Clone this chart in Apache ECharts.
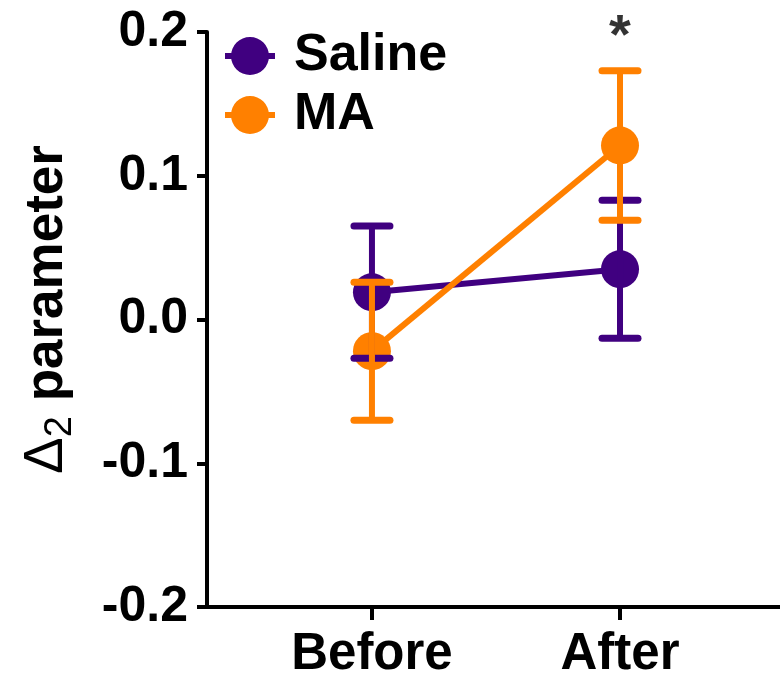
<!DOCTYPE html>
<html>
<head>
<meta charset="utf-8">
<script src="https://cdn.jsdelivr.net/npm/echarts@6/dist/echarts.min.js"></script>
<style>html,body{margin:0;padding:0;background:#fff}#c{width:780px;height:680px}</style>
</head>
<body>
<div id="c"></div>
<script>
var categories = ['Before', 'After'];
var yTicks = [-0.2, -0.1, 0.0, 0.1, 0.2];
var salineMean = [0.019, 0.035];
var salineErr = [0.046, 0.048];
var maMean = [-0.022, 0.121];
var maErr = [0.048, 0.052];
var sigLabel = ['', '*'];

var PURPLE = '#400080';
var ORANGE = '#FF8000';
var FONT = '"Liberation Sans", Arial, sans-serif';
var LEGEND_ICON = 'path://M0,16 L50,16 L50,22 L0,22 Z M6,19 A19,19 0 1,1 44,19 A19,19 0 1,1 6,19 Z';

function pts(mean) { return mean.map(function (v, i) { return [i, v]; }); }
function errs(mean, err) { return mean.map(function (v, i) { return [i, v - err[i], v + err[i]]; }); }

function errRender(color) {
  return function (params, api) {
    var x = api.value(0);
    var lo = api.coord([x, api.value(1)]);
    var hi = api.coord([x, api.value(2)]);
    var hw = 18;
    return {
      type: 'group',
      children: [
        { type: 'line', shape: { x1: lo[0], y1: lo[1], x2: hi[0], y2: hi[1] }, style: { stroke: color, lineWidth: 6 } },
        { type: 'line', shape: { x1: hi[0] - hw, y1: hi[1], x2: hi[0] + hw, y2: hi[1] }, style: { stroke: color, lineWidth: 7, lineCap: 'round' } },
        { type: 'line', shape: { x1: lo[0] - hw, y1: lo[1], x2: lo[0] + hw, y2: lo[1] }, style: { stroke: color, lineWidth: 7, lineCap: 'round' } }
      ]
    };
  };
}

var chart = echarts.init(document.getElementById('c'), null, { renderer: 'canvas' });
chart.setOption({
  animation: false,
  backgroundColor: '#fff',
  textStyle: { fontFamily: FONT },
  grid: { left: 207, right: 0, top: 32, bottom: 73, containLabel: false, outerBoundsMode: 'none' },
  legend: {
    orient: 'vertical',
    left: 220,
    top: 25,
    itemWidth: 50,
    itemHeight: 38,
    itemGap: 7,
    data: [
      { name: 'Saline', icon: LEGEND_ICON },
      { name: 'MA', icon: LEGEND_ICON }
    ],
    textStyle: { fontSize: 52, fontWeight: 'bold', color: '#000', fontFamily: FONT, lineHeight: 38, padding: [0, 0, 0, 14] }
  },
  xAxis: {
    type: 'value',
    min: -0.665,
    max: 1.645,
    splitLine: { show: false },
    axisLine: { onZero: false, lineStyle: { color: '#000', width: 4 } },
    axisTick: { show: true, customValues: [0, 1], length: 13, lineStyle: { color: '#000', width: 4 } },
    axisLabel: {
      customValues: [0, 1],
      margin: 22,
      fontSize: 51,
      fontWeight: 'bold',
      color: '#000',
      fontFamily: FONT,
      formatter: function (v) { return categories[Math.round(v)]; }
    }
  },
  yAxis: {
    type: 'value',
    min: -0.2,
    max: 0.2,
    interval: 0.1,
    splitLine: { show: false },
    axisLine: { show: true, onZero: false, lineStyle: { color: '#000', width: 4 } },
    axisTick: { show: true, length: 10, lineStyle: { color: '#000', width: 4 } },
    axisLabel: {
      margin: 19,
      fontSize: 50,
      fontWeight: 'bold',
      color: '#000',
      fontFamily: FONT,
      formatter: function (v) { return v.toFixed(1); }
    },
    name: '{d|Δ}{s|2}{p| parameter}',
    nameLocation: 'middle',
    nameRotate: 90,
    nameGap: 127,
    nameTextStyle: {
      padding: [0, 0, 0, 20],
      rich: {
        d: { fontSize: 55, fontWeight: 'normal', color: '#000', fontFamily: FONT },
        s: { fontSize: 38, fontWeight: 'normal', color: '#000', fontFamily: FONT, verticalAlign: 'bottom', padding: [28, 0, 0, 0] },
        p: { fontSize: 53, fontWeight: 'bold', color: '#000', fontFamily: FONT }
      }
    }
  },
  series: [
    {
      name: 'Saline', type: 'line', data: pts(salineMean), z: 2,
      symbol: 'circle', symbolSize: 38, color: PURPLE,
      lineStyle: { width: 6, color: PURPLE }, itemStyle: { color: PURPLE }
    },
    {
      name: 'MA', type: 'line', data: pts(maMean), z: 3,
      symbol: 'circle', symbolSize: 38, color: ORANGE,
      lineStyle: { width: 6, color: ORANGE }, itemStyle: { color: ORANGE }
    },
    {
      type: 'custom', z: 4, renderItem: errRender(PURPLE), data: errs(salineMean, salineErr),
      encode: { x: 0, y: [1, 2] }, clip: false
    },
    {
      type: 'custom', z: 5, renderItem: errRender(ORANGE), data: errs(maMean, maErr),
      encode: { x: 0, y: [1, 2] }, clip: false
    },
    {
      type: 'scatter', z: 6, symbolSize: 0, silent: true,
      data: sigLabel.map(function (s, i) { return { value: [i, 0.2], label: { formatter: s } }; }),
      label: { show: true, position: 'inside', fontSize: 56, fontWeight: 'bold', color: '#000', fontFamily: FONT, offset: [0, 6] }
    }
  ]
});
</script>
</body>
</html>
